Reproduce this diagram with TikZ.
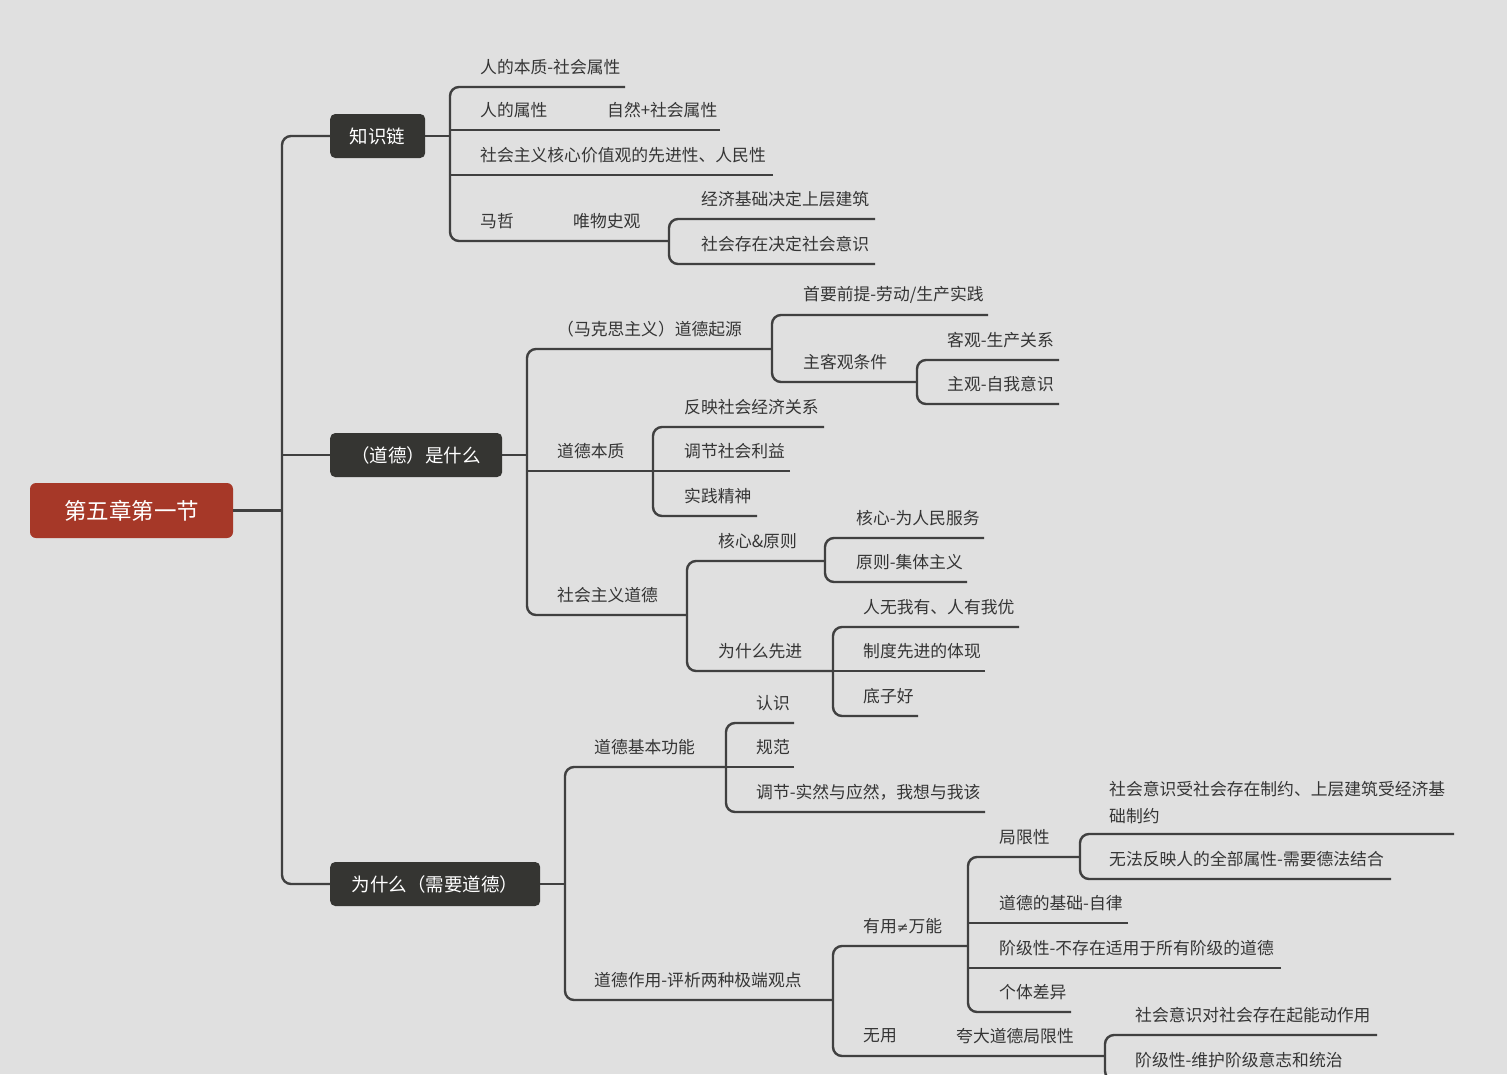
\documentclass[tikz,border=0pt]{standalone}
\usepackage{fontspec}
\newfontfamily\cjk{Noto Sans CJK SC}
\newfontfamily\symf{DejaVu Sans}
\definecolor{bg}{HTML}{E0E0E0}
\definecolor{ln}{HTML}{404040}
\definecolor{txt}{HTML}{353535}
\definecolor{dark}{HTML}{353532}
\definecolor{rootred}{HTML}{A63828}
\newcommand{\tp}[5]{%
  \node[topic] (#1) at (#2,#3-20) {#5};
  \coordinate (#1-e) at (#4,#3);
}
\begin{document}
\begin{tikzpicture}[x=1pt,y=-1pt,
  conn/.style={draw=ln, line width=2.4pt, rounded corners=9pt},
  topic/.style={anchor=west, inner sep=0pt, text=txt, font=\cjk\fontsize{16.8}{20}\selectfont},
  boxnode/.style={anchor=west, fill=dark, rounded corners=5pt, text=white, minimum height=44pt, font=\cjk\fontsize{18.5}{22}\selectfont, inner sep=0pt},
  rootnode/.style={fill=rootred, rounded corners=6pt, text=white, minimum width=203pt, minimum height=55pt, font=\cjk\fontsize{22.5}{26}\selectfont, inner sep=0pt}]
\path[use as bounding box] (0,0) rectangle (1507,1074);
\clip (0,0) rectangle (1507,1074);
\fill[bg] (0,0) rectangle (1507,1074);

% main nodes
\node[rootnode] (root) at (131.5,510.5) {第五章第一节};
\node[boxnode, minimum width=95pt] (zs) at (330,136) {知识链};
\node[boxnode, minimum width=172pt] (sm) at (330,455) {（道德）是什么};
\node[boxnode, minimum width=210pt] (wsm) at (330,884) {为什么（需要道德）};

\coordinate (tx) at (282,0);
\draw[conn] (root.east) -- (root.east -| tx);
\draw[conn] (zs.west) -- (zs.west -| tx) -- (wsm.west -| tx) -- (wsm.west);
\draw[conn] (sm.west) -- (sm.west -| tx);

% knowledge chain
\tp{k1}{480}{87}{625}{人的本质-社会属性}
\tp{k2}{480}{130}{720}{人的属性}
\node[topic] (k2a) at (607,110) {自然+社会属性};
\tp{k3}{480}{175}{773}{社会主义核心价值观的先进性、人民性}
\tp{k4}{480}{241}{669}{马哲}
\node[topic] (k4a) at (573,221) {唯物史观};
\tp{k41}{701}{219}{875}{经济基础决定上层建筑}
\tp{k42}{701}{264}{875}{社会存在决定社会意识}
\coordinate (kx) at (450,0);
\draw[conn] (zs.east) -- (zs.east -| kx);
\draw[conn] (k1-e) -- (k1-e -| kx) -- (k4-e -| kx) -- (k4-e);
\draw[conn] (k2-e) -- (k2-e -| kx);
\draw[conn] (k3-e) -- (k3-e -| kx);
\draw[conn] (k41-e) -- (k41-e -| k4-e) -- (k42-e -| k4-e) -- (k42-e);

% what is morality
\tp{d1}{557}{349}{772}{（马克思主义）道德起源}
\tp{d11}{803}{315}{988}{首要前提-劳动/生产实践}
\tp{d12}{803}{382}{917}{主客观条件}
\tp{d121}{947}{360}{1059}{客观-生产关系}
\tp{d122}{947}{404}{1059}{主观-自我意识}
\tp{d2}{557}{471}{653}{道德本质}
\tp{d21}{684}{427}{824}{反映社会经济关系}
\tp{d22}{684}{471}{790}{调节社会利益}
\tp{d23}{684}{516}{757}{实践精神}
\tp{d3}{557}{615}{687}{社会主义道德}
\tp{d31}{718}{561}{825}{核心\&原则}
\tp{d311}{856}{538}{984}{核心-为人民服务}
\tp{d312}{856}{582}{967}{原则-集体主义}
\tp{d32}{718}{671}{833}{为什么先进}
\tp{d321}{863}{627}{1019}{人无我有、人有我优}
\tp{d322}{863}{671}{985}{制度先进的体现}
\tp{d323}{863}{716}{918}{底子好}
\coordinate (dx) at (527,0);
\draw[conn] (sm.east) -- (sm.east -| dx);
\draw[conn] (d1-e) -- (d1-e -| dx) -- (d3-e -| dx) -- (d3-e);
\draw[conn] (d2-e) -- (d2-e -| dx);
\draw[conn] (d11-e) -- (d11-e -| d1-e) -- (d12-e -| d1-e) -- (d12-e);
\draw[conn] (d121-e) -- (d121-e -| d12-e) -- (d122-e -| d12-e) -- (d122-e);
\draw[conn] (d21-e) -- (d21-e -| d2-e) -- (d23-e -| d2-e) -- (d23-e);
\draw[conn] (d22-e) -- (d22-e -| d2-e);
\draw[conn] (d31-e) -- (d31-e -| d3-e) -- (d32-e -| d3-e) -- (d32-e);
\draw[conn] (d311-e) -- (d311-e -| d31-e) -- (d312-e -| d31-e) -- (d312-e);
\draw[conn] (d321-e) -- (d321-e -| d32-e) -- (d323-e -| d32-e) -- (d323-e);
\draw[conn] (d322-e) -- (d322-e -| d32-e);

% why morality
\tp{w1}{594}{767}{726}{道德基本功能}
\tp{w11}{756}{723}{794}{认识}
\tp{w12}{756}{767}{794}{规范}
\tp{w13}{756}{812}{985}{调节-实然与应然，我想与我该}
\tp{w2}{594}{1000}{833}{道德作用-评析两种极端观点}
\tp{w21}{863}{946}{968}{有用{\symf\fontsize{14}{20}\selectfont ≠}万能}
\tp{w211}{999}{857}{1080}{局限性}
\node[topic, align=left, font=\cjk\fontsize{16.8}{27}\selectfont] (w2111) at (1109,802.5) {社会意识受社会存在制约、上层建筑受经济基\\础制约};
\coordinate (w2111-e) at (1454,834);
\tp{w2112}{1109}{879}{1391}{无法反映人的全部属性-需要德法结合}
\tp{w212}{999}{923}{1128}{道德的基础-自律}
\tp{w213}{999}{968}{1281}{阶级性-不存在适用于所有阶级的道德}
\tp{w214}{999}{1012}{1071}{个体差异}
\tp{w22}{863}{1056}{1105}{无用}
\node[topic] (w22a) at (956,1036) {夸大道德局限性};
\tp{w221}{1135}{1035}{1377}{社会意识对社会存在起能动作用}
\tp{w222}{1135}{1080}{1350}{阶级性-维护阶级意志和统治}
\coordinate (wx) at (565,0);
\draw[conn] (wsm.east) -- (wsm.east -| wx);
\draw[conn] (w1-e) -- (w1-e -| wx) -- (w2-e -| wx) -- (w2-e);
\draw[conn] (w11-e) -- (w11-e -| w1-e) -- (w13-e -| w1-e) -- (w13-e);
\draw[conn] (w12-e) -- (w12-e -| w1-e);
\draw[conn] (w21-e) -- (w21-e -| w2-e) -- (w22-e -| w2-e) -- (w22-e);
\draw[conn] (w211-e) -- (w211-e -| w21-e) -- (w214-e -| w21-e) -- (w214-e);
\draw[conn] (w212-e) -- (w212-e -| w21-e);
\draw[conn] (w213-e) -- (w213-e -| w21-e);
\draw[conn] (w2111-e) -- (w2111-e -| w211-e) -- (w2112-e -| w211-e) -- (w2112-e);
\draw[conn] (w221-e) -- (w221-e -| w22-e) -- (w222-e -| w22-e) -- (w222-e);
\end{tikzpicture}
\end{document}
